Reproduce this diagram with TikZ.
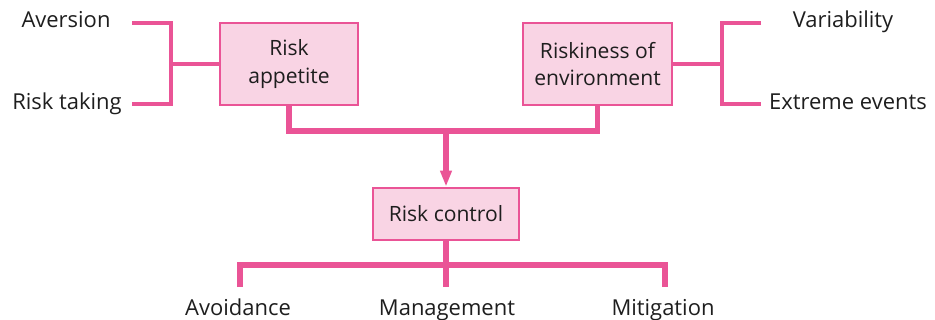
\documentclass[tikz,border=0pt]{standalone}
\usepackage{fontspec}
\setmainfont{Open Sans}
\usetikzlibrary{arrows.meta}
\definecolor{riskpink}{RGB}{234,84,150}
\definecolor{riskfill}{RGB}{249,212,228}
\definecolor{risktext}{RGB}{30,30,30}
\tikzset{
	riskbox/.style={draw=riskpink, fill=riskfill, line width=1.6pt, align=center, inner sep=0pt, text=risktext, font=\fontsize{12}{15.4}\selectfont},
	risklabel/.style={anchor=base, inner sep=0pt, text=risktext, font=\fontsize{12.5}{15}\selectfont},
	thinlink/.style={draw=riskpink, line width=1.8pt},
	thicklink/.style={draw=riskpink, line width=3.2pt},
}

\begin{document}
\begin{tikzpicture}[x=0.02cm, y=-0.02cm]
			%%%%% START %%%%%
			\useasboundingbox (0, 0) rectangle (935, 320);
			
			% boxes
			\node[riskbox, minimum width=2.76cm, minimum height=1.64cm] (appetite) at (289, 64) {Risk\\appetite};
			\node[riskbox, minimum width=2.98cm, minimum height=1.64cm] (riskiness) at (597.5, 64) {Riskiness of\\environment};
			\node[riskbox, minimum width=2.92cm, minimum height=1.04cm] (control) at (446, 214) {Risk control};
			
			% labels
			\node[risklabel] (aversion) at (66, 28) {Aversion};
			\node[risklabel] (taking) at (67, 110) {Risk taking};
			\node[risklabel] (variability) at (843, 28) {Variability};
			\node[risklabel] (extreme) at (848, 110) {Extreme events};
			\node[risklabel] (avoidance) at (238, 315) {Avoidance};
			\node[risklabel] (management) at (447, 315) {Management};
			\node[risklabel] (mitigation) at (663, 315) {Mitigation};
			
			% fork points
			\coordinate (avend) at (132, 23);
			\coordinate (tkend) at (132, 104);
			\coordinate (lfork) at (171, 64);
			\coordinate (varend) at (761, 23);
			\coordinate (exend) at (761, 104);
			\coordinate (rfork) at (722, 64);
			\coordinate (join) at (446, 131);
			\coordinate (avtop) at (240, 265);
			\coordinate (mttop) at (665, 265);
			\coordinate (avtick) at (240, 287);
			\coordinate (mgtick) at (446, 287);
			\coordinate (mttick) at (665, 287);
			
			% thin brackets
			\draw[thinlink] (avend) -| (lfork) |- (tkend);
			\draw[thinlink] (lfork) -- (appetite.west);
			\draw[thinlink] (varend) -| (rfork) |- (exend);
			\draw[thinlink] (riskiness.east) -- (rfork);
			
			% thick links
			\draw[thicklink] (appetite.south) |- (join) -| (riskiness.south);
			\draw[thicklink, -{Triangle[length=0.32cm, width=0.22cm]}] (join) -- (control.north);
			\draw[thicklink] (control.south) -- (mgtick);
			\draw[thicklink] (avtick) -- (avtop) -- (mttop) -- (mttick);
			
			%%%%% END %%%%%
\end{tikzpicture}
\end{document}
